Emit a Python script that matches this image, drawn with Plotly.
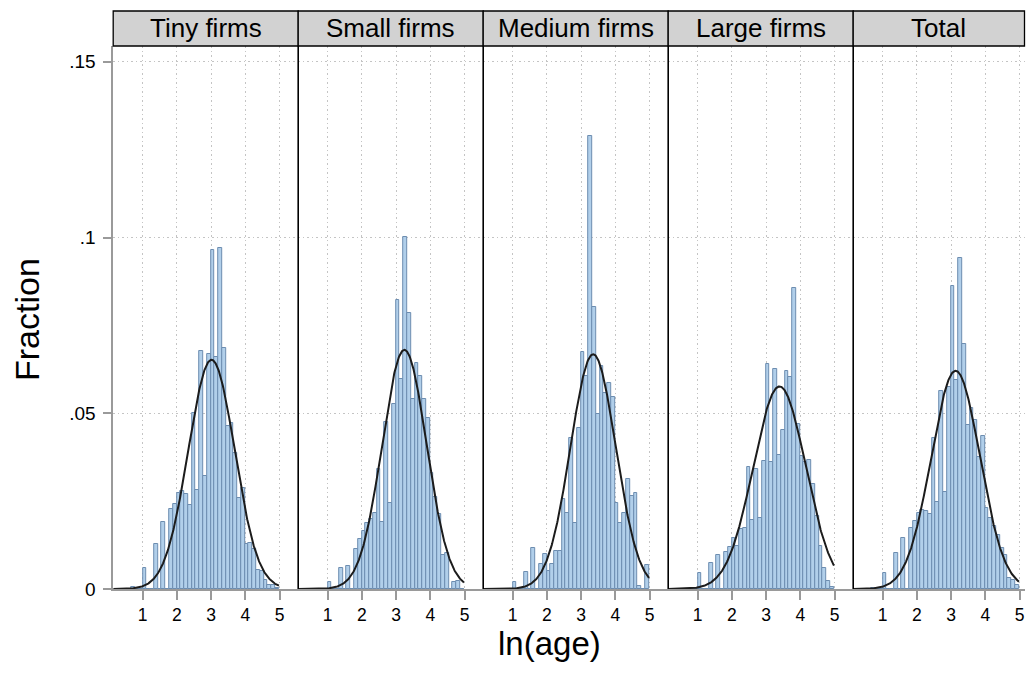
import numpy as np
import plotly.graph_objects as go

# ---------------- data ----------------
panel_titles = ["Tiny firms", "Small firms", "Medium firms", "Large firms", "Total"]

bin_start = 0.67      # left edge of first histogram bin (ln(age))
bin_width = 0.1105
n_bins = 39

tiny = [0.0007, 0, 0, 0.0059, 0, 0, 0.0128, 0, 0.0191, 0, 0.0227, 0.0242, 0.0273,
        0.0278, 0.0270, 0.0240, 0.0502, 0.0283, 0.0676, 0.0321, 0.0670, 0.0964,
        0.0659, 0.0969, 0.0686, 0.0464, 0.0471, 0.0388, 0.0259, 0.0286, 0.0128,
        0.0130, 0.0114, 0.0054, 0.0052, 0.0027, 0.0011, 0.0011, 0.0004]
small = [0, 0, 0, 0.0019, 0, 0, 0.0061, 0, 0.0066, 0, 0.0113, 0.0141, 0.0165,
         0.0189, 0.0200, 0.0217, 0.0342, 0.0192, 0.0474, 0.0244, 0.0527, 0.0821,
         0.0597, 0.1001, 0.0786, 0.0542, 0.0642, 0.0607, 0.0540, 0.0487, 0.0329,
         0.0263, 0.0213, 0.0097, 0.0102, 0, 0.0021, 0.0022, 0]
medium = [0, 0, 0, 0.0021, 0, 0, 0.0049, 0, 0.0118, 0, 0.0070, 0.0099, 0.0051,
          0.0070, 0.0108, 0.0108, 0.0255, 0.0217, 0.0431, 0.0187, 0.0459, 0.0674,
          0.0606, 0.1289, 0.0801, 0.0499, 0.0635, 0.0557, 0.0587, 0.0547, 0.0246,
          0.0187, 0.0215, 0.0312, 0.0265, 0.0274, 0.0009, 0, 0.0068]
large = [0, 0, 0, 0.0045, 0, 0, 0.0075, 0, 0.0096, 0, 0.0105, 0.0119, 0.0144,
         0.0122, 0.0170, 0.0175, 0.0348, 0.0196, 0.0341, 0.0203, 0.0365, 0.0640,
         0.0360, 0.0625, 0.0381, 0.0452, 0.0620, 0.0602, 0.0856, 0.0470, 0.0378,
         0.0360, 0.0367, 0.0298, 0.0208, 0.0122, 0.0061, 0.0024, 0.0007]
total = [0.0004, 0, 0, 0.0046, 0, 0, 0.0102, 0, 0.0146, 0, 0.0175, 0.0193, 0.0215,
         0.0225, 0.0222, 0.0213, 0.0429, 0.0247, 0.0563, 0.0277, 0.0576, 0.0861,
         0.0595, 0.0942, 0.0696, 0.0467, 0.0514, 0.0481, 0.0377, 0.0434, 0.0231,
         0.0201, 0.0179, 0.0154, 0.0116, 0.0096, 0.0030, 0.0025, 0.0011]

# normal-density overlay parameters (mean, sd of ln(age)) per panel
normal_mean = [3.01, 3.24, 3.35, 3.39, 3.13]
normal_sd = [0.676, 0.648, 0.660, 0.765, 0.710]

x_tick_vals = [1, 2, 3, 4, 5]
x_tick_text = ["1", "2", "3", "4", "5"]
y_tick_vals = [0, 0.05, 0.10, 0.15]
y_tick_text = ["0", ".05", ".1", ".15"]
x_title = "ln(age)"
y_title = "Fraction"

# ---------------- layout geometry ----------------
W, H = 1028, 673
PLOT_TOP, PLOT_BOT = 46, 589
HEAD_TOP = 11
PX_PER_UNIT = 34.25
X_MIN = 0.14
panel_left = [113.2 + 185 * i for i in range(5)]
panel_right = [l + 185 for l in panel_left[:4]] + [1024.5]

FONT = "Liberation Sans, Arial, Helvetica, sans-serif"
BAR_FILL = "#b1cfea"
BAR_EDGE = "#6d8db0"
AXIS_GRAY = "#9a9a9a"
GRID_GRAY = "#c4c4c4"
GRID_DASH = "1.5px,3px"

series = [tiny, small, medium, large, total]
edges = bin_start + bin_width * np.arange(n_bins + 1)
centers = (edges[:-1] + edges[1:]) / 2
bin_end = edges[-1]

fig = go.Figure()
layout = dict(
    template="none",
    width=W, height=H, autosize=False,
    margin=dict(l=0, r=0, t=0, b=0, pad=0, autoexpand=False),
    paper_bgcolor="white", plot_bgcolor="white",
    showlegend=False, bargap=0,
    font=dict(family=FONT, color="black"),
)

shapes = []
annotations = []
for i in range(5):
    n = "" if i == 0 else str(i + 1)
    xa, ya = "x" + n, "y" + n
    l, r = panel_left[i], panel_right[i]
    x_max = X_MIN + (r - l) / PX_PER_UNIT

    fig.add_trace(go.Bar(
        x=centers, y=series[i], width=bin_width,
        marker=dict(color=BAR_FILL, line=dict(color=BAR_EDGE, width=1)),
        xaxis=xa, yaxis=ya, hoverinfo="skip",
    ))
    xs = np.linspace(X_MIN, bin_end, 400)
    m, s = normal_mean[i], normal_sd[i]
    ys = bin_width * np.exp(-0.5 * ((xs - m) / s) ** 2) / (s * np.sqrt(2 * np.pi))
    fig.add_trace(go.Scatter(
        x=xs, y=ys, mode="lines", line=dict(color="#1c1c1c", width=2),
        xaxis=xa, yaxis=ya, hoverinfo="skip",
    ))

    layout["xaxis" + n] = dict(
        domain=[l / W, r / W], range=[X_MIN, x_max], anchor=ya, automargin=False,
        tickvals=x_tick_vals, ticktext=x_tick_text,
        ticks="outside", ticklen=9, tickwidth=1.5, tickcolor=AXIS_GRAY,
        showline=True, linecolor=AXIS_GRAY, linewidth=1.5,
        showgrid=True, gridcolor=GRID_GRAY, gridwidth=1, griddash=GRID_DASH,
        zeroline=False, tickfont=dict(size=17.5, color="black", family=FONT),
        fixedrange=True,
    )
    layout["yaxis" + n] = dict(
        domain=[1 - PLOT_BOT / H, 1 - PLOT_TOP / H], range=[0, 0.1545], anchor=xa,
        automargin=False,
        tickvals=y_tick_vals, ticktext=y_tick_text,
        showticklabels=(i == 0), ticks="outside" if i == 0 else "",
        ticklen=8, tickwidth=1.5, tickcolor=AXIS_GRAY,
        showline=(i == 0), linecolor=AXIS_GRAY, linewidth=1.5,
        showgrid=True, gridcolor=GRID_GRAY, gridwidth=1, griddash=GRID_DASH,
        zeroline=False, tickfont=dict(size=19, color="black", family=FONT),
        ticklabelstandoff=4, fixedrange=True,
    )

    # header strip
    shapes.append(dict(
        type="rect", xref="paper", yref="paper",
        x0=l / W, x1=r / W, y0=1 - PLOT_TOP / H, y1=1 - HEAD_TOP / H,
        fillcolor="#d2d2d2", line=dict(color="black", width=1.3), layer="above",
    ))
    annotations.append(dict(
        text=panel_titles[i], xref="paper", yref="paper",
        x=(l + r) / 2 / W, y=1 - (HEAD_TOP + PLOT_TOP) / 2 / H,
        xanchor="center", yanchor="middle", showarrow=False,
        font=dict(size=26, color="black", family=FONT),
    ))
    if i > 0:
        shapes.append(dict(
            type="line", xref="paper", yref="paper",
            x0=l / W, x1=l / W, y0=1 - PLOT_BOT / H, y1=1 - PLOT_TOP / H,
            line=dict(color="black", width=1.6), layer="above",
        ))

annotations.append(dict(
    text=y_title, xref="paper", yref="paper", x=27 / W, y=1 - 320 / H,
    textangle=-90, xanchor="center", yanchor="middle", showarrow=False,
    font=dict(size=34, color="black", family=FONT),
))
annotations.append(dict(
    text=x_title, xref="paper", yref="paper", x=549.5 / W, y=1 - 623 / H,
    xanchor="center", yanchor="top", showarrow=False,
    font=dict(size=33, color="black", family=FONT),
))

layout["shapes"] = shapes
layout["annotations"] = annotations
fig.update_layout(**layout)
fig.write_html("out.html", config={"responsive": False, "displayModeBar": False})
